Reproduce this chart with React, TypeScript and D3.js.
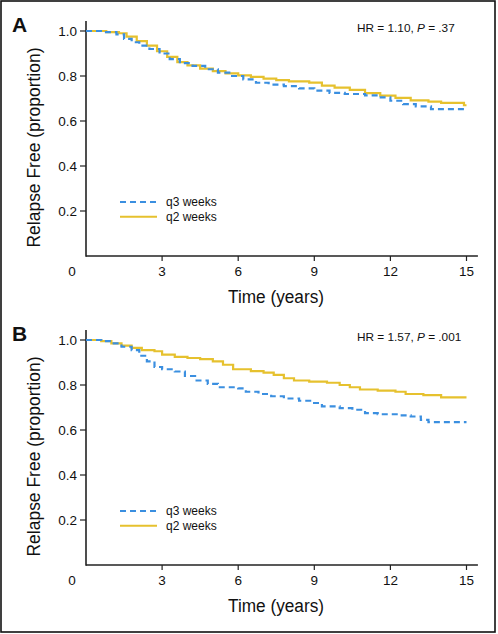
import React from "react";
import * as d3 from "d3";

const xTicks = [0, 3, 6, 9, 12, 15];
const yTicks = [0.2, 0.4, 0.6, 0.8, 1.0];
const seriesNames = ["q3 weeks", "q2 weeks"];
const panelLabels = ["A", "B"];
const hrTexts = [
  { hr: "1.10", p: ".37" },
  { hr: "1.57", p: ".001" },
];

// Panel A
const aQ3Time = [0, 0.7, 1.2, 1.5, 1.8, 2.1, 2.5, 2.9, 3.3, 3.7, 4.2, 4.7, 5.2, 5.7, 6.2, 6.7, 7.2, 7.8, 8.4, 9.0, 9.6, 10.2, 11.0, 11.5, 12.0, 12.5, 13.0, 13.6, 15.0];
const aQ3Surv = [1.0, 0.995, 0.985, 0.965, 0.95, 0.935, 0.92, 0.9, 0.875, 0.857, 0.845, 0.83, 0.815, 0.8, 0.785, 0.77, 0.762, 0.755, 0.745, 0.735, 0.725, 0.72, 0.714, 0.705, 0.69, 0.675, 0.665, 0.653, 0.653];
const aQ2Time = [0, 0.8, 1.3, 1.6, 2.0, 2.4, 2.8, 3.2, 3.6, 4.0, 4.5, 5.0, 5.5, 6.0, 6.5, 7.0, 7.5, 8.0, 8.8, 9.3, 9.8, 10.4, 11.0, 11.6, 12.2, 12.8, 13.5, 14.0, 14.9, 15.0];
const aQ2Surv = [1.0, 0.995, 0.99, 0.975, 0.955, 0.935, 0.91, 0.885, 0.862, 0.847, 0.833, 0.822, 0.812, 0.803, 0.796, 0.788, 0.782, 0.776, 0.771, 0.757, 0.748, 0.738, 0.724, 0.713, 0.703, 0.692, 0.686, 0.681, 0.67, 0.67];

// Panel B
const bQ3Time = [0, 0.6, 1.0, 1.4, 1.8, 2.1, 2.4, 2.7, 3.0, 3.5, 3.9, 4.3, 4.8, 5.2, 6.0, 6.3, 6.8, 7.3, 7.8, 8.4, 8.9, 9.3, 10.0, 10.5, 11.0, 11.5, 12.3, 12.8, 13.2, 13.5, 15.0];
const bQ3Surv = [1.0, 0.995, 0.985, 0.97, 0.955, 0.93, 0.905, 0.88, 0.87, 0.86, 0.84, 0.82, 0.805, 0.79, 0.785, 0.77, 0.76, 0.75, 0.74, 0.73, 0.72, 0.705, 0.697, 0.69, 0.675, 0.67, 0.665, 0.66, 0.645, 0.635, 0.635];
const bQ2Time = [0, 0.6, 1.0, 1.4, 1.8, 2.2, 2.7, 3.0, 3.5, 4.0, 4.5, 5.0, 5.4, 5.8, 6.5, 7.0, 7.4, 7.8, 8.2, 8.8, 9.5, 10.0, 10.4, 10.8, 11.5, 12.2, 12.6, 13.3, 14.0, 15.0];
const bQ2Surv = [1.0, 0.995, 0.985, 0.975, 0.965, 0.955, 0.95, 0.935, 0.925, 0.92, 0.915, 0.905, 0.89, 0.87, 0.862, 0.855, 0.845, 0.83, 0.82, 0.815, 0.81, 0.8, 0.79, 0.78, 0.775, 0.77, 0.76, 0.755, 0.745, 0.745];

const panels = [
  { q3t: aQ3Time, q3s: aQ3Surv, q2t: aQ2Time, q2s: aQ2Surv },
  { q3t: bQ3Time, q3s: bQ3Surv, q2t: bQ2Time, q2s: bQ2Surv },
];

const BLUE = "#3b8fe0";
const GOLD = "#e6c12e";
const AX = "#222";
const SANS = "Arial, 'Liberation Sans', Helvetica, sans-serif";

function Panel({ idx, top }: { idx: number; top: number }) {
  const p = panels[idx];
  const x = d3.scaleLinear().domain([0, 15]).range([86, 466.5]);
  const y = d3.scaleLinear().domain([0, 1]).range([top + 235, top + 10]);
  const line = d3
    .line<[number, number]>()
    .x((d) => x(d[0]))
    .y((d) => y(d[1]))
    .curve(d3.curveStepAfter);
  const q3 = line(p.q3t.map((t, i) => [t, p.q3s[i]] as [number, number])) || "";
  const q2 = line(p.q2t.map((t, i) => [t, p.q2s[i]] as [number, number])) || "";
  const y0 = y(0);
  const yTop = y(1.045);
  const xEnd = x(15.45);
  const legY1 = y(0.24);
  const legY2 = y(0.175);
  return (
    <g>
      <text x={12} y={top + 11} fontFamily={SANS} fontWeight="bold" fontSize={21} fill="#111">
        {panelLabels[idx]}
      </text>
      {/* axes */}
      <line x1={x(0)} x2={x(0)} y1={yTop} y2={y0 + 0.75} stroke={AX} strokeWidth={1.6} />
      <line x1={x(0)} x2={xEnd} y1={y0} y2={y0} stroke={AX} strokeWidth={1.6} />
      {yTicks.map((v) => (
        <g key={v}>
          <line x1={x(0) - 6} x2={x(0)} y1={y(v)} y2={y(v)} stroke={AX} strokeWidth={1.2} />
          <text x={x(0) - 9} y={y(v) + 5} textAnchor="end" fontFamily={SANS} fontSize={13.5} fill="#111">
            {v.toFixed(1)}
          </text>
        </g>
      ))}
      {xTicks.map((v) => (
        <g key={v}>
          {v > 0 && <line x1={x(v)} x2={x(v)} y1={y0} y2={y0 + 5} stroke={AX} strokeWidth={1.2} />}
          <text x={v === 0 ? x(0) - 14 : x(v)} y={y0 + 20} textAnchor="middle" fontFamily={SANS} fontSize={13.5} fill="#111">
            {v}
          </text>
        </g>
      ))}
      <text
        transform={`translate(40,${top + 126.5}) rotate(-90)`}
        textAnchor="middle"
        fontFamily={SANS}
        fontSize={18}
        fill="#111"
        textLength={200}
        lengthAdjust="spacingAndGlyphs"
      >
        Relapse Free (proportion)
      </text>
      <text
        x={276}
        y={y0 + 47}
        textAnchor="middle"
        fontFamily={SANS}
        fontSize={18}
        fill="#111"
        textLength={96}
        lengthAdjust="spacingAndGlyphs"
      >
        Time (years)
      </text>
      <text x={357} y={top + 11} fontFamily={SANS} fontSize={11.8} fill="#111">
        {`HR = ${hrTexts[idx].hr}, `}
        <tspan fontStyle="italic">P</tspan>
        {` = ${hrTexts[idx].p}`}
      </text>
      {/* curves */}
      <path d={q2} fill="none" stroke={GOLD} strokeWidth={2.2} />
      <path d={q3} fill="none" stroke={BLUE} strokeWidth={2.2} strokeDasharray="6,4" />
      {/* legend */}
      <line x1={120} x2={157} y1={legY1} y2={legY1} stroke={BLUE} strokeWidth={2} strokeDasharray="6,4" />
      <line x1={120} x2={157} y1={legY2} y2={legY2} stroke={GOLD} strokeWidth={2} />
      <text x={166} y={legY1 + 4} fontFamily={SANS} fontSize={12} fill="#111">
        {seriesNames[0]}
      </text>
      <text x={166} y={legY2 + 4} fontFamily={SANS} fontSize={12} fill="#111">
        {seriesNames[1]}
      </text>
    </g>
  );
}

export default function App() {
  return (
    <svg
      width={498}
      height={634}
      style={{ position: "absolute", left: 0, top: 0, background: "#fff" }}
    >
      <rect x={0} y={0} width={498} height={634} fill="#fff" />
      <rect x={1} y={1} width={494} height={631} fill="none" stroke="#111" strokeWidth={1.6} />
      <Panel idx={0} top={21} />
      <Panel idx={1} top={330} />
    </svg>
  );
}
